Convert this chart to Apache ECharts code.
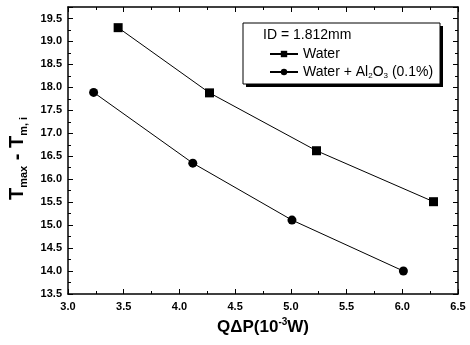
<!DOCTYPE html>
<html><head><meta charset="utf-8">
<script src="https://cdn.jsdelivr.net/npm/echarts@6/dist/echarts.min.js"></script>
<style>html,body{margin:0;padding:0;background:#fff}#c{width:470px;height:345px}</style>
</head><body><div id="c"></div>
<script>
const waterX = [3.45, 4.27, 5.23, 6.28];
const waterY = [19.30, 17.88, 16.62, 15.51];
const nanoX = [3.23, 4.12, 5.01, 6.01];
const nanoY = [17.89, 16.35, 15.11, 14.00];
const seriesNames = ['Water', 'Water + Al2O3 (0.1%)'];
const legendTitle = 'ID = 1.812mm';

const F = 'Liberation Sans, Arial, sans-serif';
const chart = echarts.init(document.getElementById('c'));
const axisCommon = {
  type: 'value',
  axisLine: {show: true, lineStyle: {color: '#000', width: 1.5}},
  axisTick: {show: true, inside: true, length: 5, lineStyle: {color: '#000', width: 1}},
  minorTick: {show: true, splitNumber: 2, length: 3, lineStyle: {color: '#000', width: 1}},
  splitLine: {show: false},
  minorSplitLine: {show: false}
};
const xBase = Object.assign({}, axisCommon, {min: 3.0, max: 6.5, interval: 0.5});
const yBase = Object.assign({}, axisCommon, {min: 13.5, max: 19.75, interval: 0.5});
const labelStyle = {color: '#000', fontFamily: F, fontSize: 11, fontWeight: 'bold'};

chart.setOption({
  animation: false,
  grid: {left: 68, right: 12, top: 7, bottom: 51, containLabel: false, outerBoundsMode: 'none'},
  xAxis: [
    Object.assign({}, xBase, {
      position: 'bottom',
      axisLabel: Object.assign({margin: 7, formatter: v => v.toFixed(1)}, labelStyle),
      name: '{b|QΔP(10}{sup|-3}{b|W)}',
      nameLocation: 'middle', nameGap: 23,
      nameTextStyle: {rich: {
        b: {fontFamily: F, fontSize: 17, fontWeight: 'bold', color: '#000', lineHeight: 20},
        sup: {fontFamily: F, fontSize: 10, fontWeight: 'bold', color: '#000', lineHeight: 20, verticalAlign: 'top', padding: [0, 0, 7, 0]}
      }}
    }),
    Object.assign({}, xBase, {position: 'top', axisLabel: {show: false}})
  ],
  yAxis: [
    Object.assign({}, yBase, {
      position: 'left',
      axisLabel: Object.assign({margin: 6, showMaxLabel: false, formatter: v => (Math.abs(v*2 - Math.round(v*2)) < 1e-6) ? v.toFixed(1) : ''}, labelStyle),
      name: '{b|T}{sub|max}{b| - T}{sub|m, i}',
      nameLocation: 'middle', nameRotate: 90, nameGap: 37,
      nameTextStyle: {padding: [0, 16, 0, 0], rich: {
        b: {fontFamily: F, fontSize: 20, fontWeight: 'bold', color: '#000', lineHeight: 24},
        sub: {fontFamily: F, fontSize: 11, fontWeight: 'bold', color: '#000', lineHeight: 24, verticalAlign: 'bottom', padding: [9, 0, 0, 0]}
      }}
    }),
    Object.assign({}, yBase, {position: 'right', axisLabel: {show: false}})
  ],
  graphic: [
    {type: 'rect', shape: {x: 246, y: 26, width: 197, height: 61}, style: {fill: '#000'}, z: 1},
    {type: 'rect', shape: {x: 243, y: 23, width: 197, height: 61}, style: {fill: '#fff', stroke: '#000', lineWidth: 1}, z: 2},
    {type: 'text', x: 263, y: 28, style: {text: legendTitle, fontFamily: F, fontSize: 14, fill: '#000'}, z: 3}
  ],
  legend: {
    orient: 'vertical', left: 264, top: 42, itemGap: 4, itemWidth: 28, itemHeight: 8,
    data: seriesNames,
    textStyle: {
      fontFamily: F, fontSize: 14, color: '#000',
      rich: {
        n: {fontFamily: F, fontSize: 14, color: '#000', lineHeight: 16},
        s: {fontFamily: F, fontSize: 8, color: '#000', lineHeight: 16, verticalAlign: 'bottom', padding: [5, 0, 0, 0]}
      }
    },
    formatter: name => name === seriesNames[1] ? '{n|Water + Al}{s|2}{n|O}{s|3}{n| (0.1%)}' : '{n|' + name + '}',
    z: 5
  },
  series: [
    {name: seriesNames[0], type: 'line', data: waterX.map((x, i) => [x, waterY[i]]),
     symbol: 'rect', symbolSize: 9, itemStyle: {color: '#000'}, lineStyle: {color: '#000', width: 1}},
    {name: seriesNames[1], type: 'line', data: nanoX.map((x, i) => [x, nanoY[i]]),
     symbol: 'circle', symbolSize: 9, itemStyle: {color: '#000'}, lineStyle: {color: '#000', width: 1}}
  ]
});
</script></body></html>
